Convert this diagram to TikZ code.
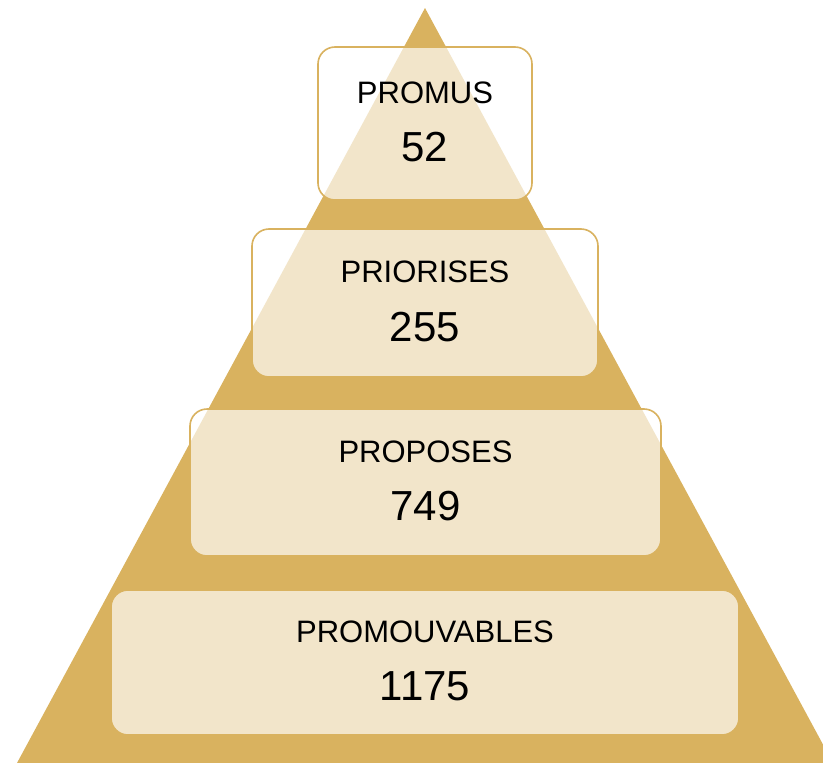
\documentclass[tikz,border=0pt]{standalone}
\usepackage{fontspec}
\setmainfont{Liberation Sans}
\definecolor{gold}{RGB}{217,178,95}
\begin{document}
\begin{tikzpicture}[x=1pt,y=-1pt,
  level/.style={draw=gold, line width=1.6pt, fill=white, fill opacity=0.67, rounded corners=17pt, inner sep=0pt},
  lbl/.style={font=\fontsize{31}{33}\selectfont, text=black, inner sep=0pt},
  num/.style={font=\fontsize{42}{44}\selectfont, text=black, inner sep=0pt}]
\useasboundingbox (0,0) rectangle (823,763);
\clip (0,0) rectangle (823,763);
\fill[gold] (425,8) -- (17,763) -- (833,763) -- cycle;
% boxes
\node[level, minimum width=214pt, minimum height=153pt] (b1) at (425,123.5) {};
\node[level, minimum width=346pt, minimum height=148pt] (b2) at (425,303) {};
\node[level, minimum width=471pt, minimum height=147pt] (b3) at (425.5,482.5) {};
\node[level, minimum width=628pt, minimum height=145pt] (b4) at (425,662.5) {};
% texts
\node[lbl] (t1) at ([yshift=31pt]b1.center) {PROMUS};
\node[num] (n1) at ([yshift=-24pt]b1.center) {52};
\node[lbl] (t2) at ([yshift=31pt]b2.center) {PRIORISES};
\node[num] (n2) at ([yshift=-24pt]b2.center) {255};
\node[lbl] (t3) at ([yshift=31pt]b3.center) {PROPOSES};
\node[num] (n3) at ([yshift=-24pt]b3.center) {749};
\node[lbl] (t4) at ([yshift=31pt]b4.center) {PROMOUVABLES};
\node[num] (n4) at ([yshift=-24pt]b4.center) {1175};
\end{tikzpicture}
\end{document}
